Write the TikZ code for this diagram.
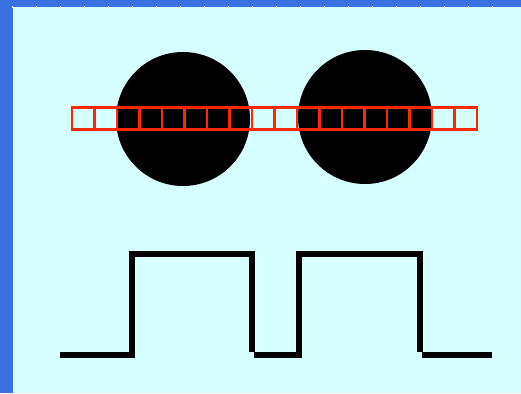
\documentclass[tikz,border=0pt]{standalone}
\usepackage{tikz}
\definecolor{frameblue}{RGB}{58,112,226}
\definecolor{paleaqua}{RGB}{214,255,255}
\definecolor{cellred}{RGB}{255,40,0}
\tikzset{
  blob/.style={circle,fill=black,minimum size=134pt,inner sep=0pt},
  cell/.style={draw=cellred,line width=2.9pt,minimum size=22.5pt,
    inner sep=0pt,outer sep=0pt},
  pulse/.style={draw=black,line width=5.2pt},
  tick/.style={draw=white,line width=0.8pt}
}

\begin{document}
\begin{tikzpicture}[x=1pt,y=-1pt]
  % frame and background
  \fill[frameblue] (0,0) rectangle (521,393);
  \fill[paleaqua] (13,7) rectangle (521,393);
  \useasboundingbox (0,0) rectangle (521,393);
  \foreach \k in {0,...,20}
    \draw[tick] (12+24*\k,6) -- (12+24*\k,8);
  % the two discs
  \node[blob] (leftblob) at (183,119) {};
  \node[blob] (rightblob) at (365,117) {};
  % row of pixel cells
  \foreach \i in {0,...,17}
    \node[cell] (cell\i) at (83.25+22.5*\i,118.5) {};
  % sampled signal
  \draw[pulse] (60,355) -| (132,254) -| (252,352);
  \draw[pulse] (254,355) -| (299,254) -| (420,352);
  \draw[pulse] (422,355) -- (492,355);
\end{tikzpicture}
\end{document}
